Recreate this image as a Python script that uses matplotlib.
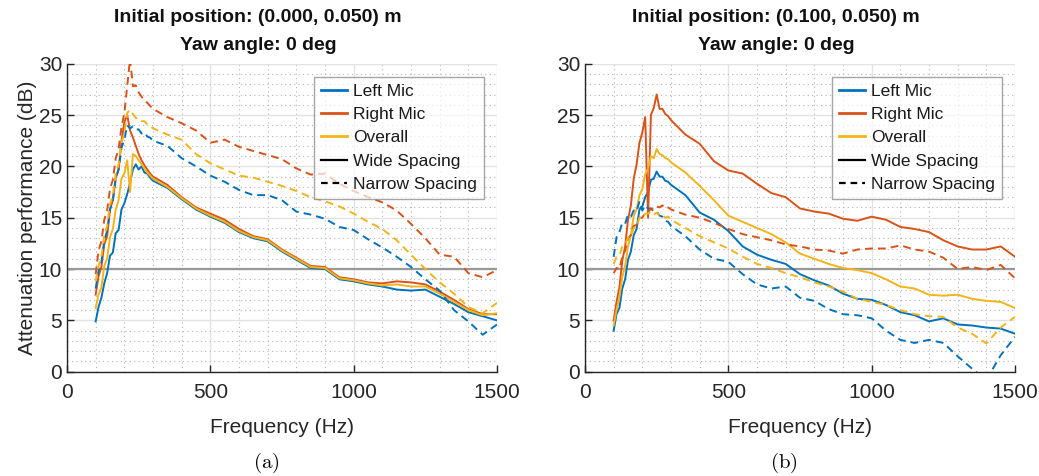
import matplotlib
matplotlib.use("Agg")
import matplotlib.pyplot as plt
from matplotlib.lines import Line2D
from matplotlib.ticker import MultipleLocator

plt.rcParams['font.family'] = ['Liberation Sans', 'DejaVu Sans']
plt.rcParams['mathtext.fontset'] = 'cm'

# ---------------- data ----------------
freq = [100, 110, 120, 130, 140, 150, 160, 170, 180, 190, 200, 210, 220, 230, 240, 250, 260, 270, 280, 290, 300,
        350, 400, 450, 500, 550, 600, 650, 700, 750, 800, 850, 900, 950, 1000, 1050, 1100, 1150, 1200, 1250,
        1300, 1350, 1400, 1450, 1500]

# (a) initial position (0.000, 0.050) m
a_wide_left = [4.9, 6.3, 7.2, 8.6, 9.6, 11.3, 11.6, 13.5, 13.8, 15.8, 16.4, 17.3, 18.4, 19.7, 20.2, 19.7, 20.0, 19.4, 19.3, 18.9, 18.6,
               17.9, 16.8, 15.8, 15.1, 14.5, 13.6, 13.0, 12.7, 11.7, 10.9, 10.1, 10.0, 9.0, 8.8, 8.5, 8.3, 8.0, 7.9, 8.0,
               7.3, 6.6, 5.8, 5.4, 5.0]
a_wide_right = [7.5, 9.3, 10.2, 12.4, 13.2, 15.8, 16.7, 18.9, 19.7, 22.4, 24.3, 25.0, 23.5, 22.8, 22.0, 21.2, 20.6, 20.1, 19.7, 19.3, 19.0,
                18.2, 17.0, 16.0, 15.4, 14.8, 13.9, 13.2, 12.9, 11.9, 11.1, 10.3, 10.2, 9.2, 9.0, 8.7, 8.6, 8.8, 8.7, 8.5,
                7.8, 7.0, 6.1, 5.6, 5.6]
a_wide_overall = [6.2, 7.5, 8.2, 10.3, 11.0, 13.1, 13.9, 15.8, 16.7, 18.8, 19.3, 20.6, 17.5, 21.2, 21.0, 20.6, 20.2, 19.8, 19.4, 19.1, 18.8,
                  18.0, 16.9, 15.9, 15.2, 14.6, 13.7, 13.1, 12.8, 11.8, 11.0, 10.2, 10.1, 9.1, 8.9, 8.6, 8.4, 8.5, 8.3, 8.3,
                  7.6, 6.8, 6.0, 5.5, 5.7]
a_narrow_left = [8.1, 9.8, 10.7, 12.8, 13.7, 15.8, 16.7, 18.8, 19.7, 21.8, 22.6, 24.0, 23.7, 23.9, 23.6, 23.6, 23.2, 23.3, 22.9, 22.8, 22.5,
                 22.0, 20.8, 20.0, 19.1, 18.5, 17.7, 17.2, 17.2, 16.7, 15.6, 15.3, 14.9, 14.1, 13.8, 12.9, 12.1, 11.2, 10.2, 9.0,
                 7.9, 6.0, 4.9, 3.6, 4.6]
a_narrow_right = [9.5, 11.8, 12.7, 14.8, 15.7, 17.8, 18.7, 20.8, 21.7, 23.8, 25.2, 27.8, 30.5, 27.8, 27.9, 27.2, 26.8, 26.4, 26.2, 25.9, 25.6,
                  24.8, 24.2, 23.5, 22.3, 22.6, 21.9, 21.5, 21.1, 20.7, 19.8, 19.2, 19.3, 18.3, 17.6, 17.0, 16.5, 15.7, 14.4, 13.0,
                  11.4, 11.2, 9.6, 9.2, 9.9]
a_narrow_overall = [8.8, 10.3, 11.2, 13.3, 14.2, 16.3, 17.2, 19.3, 20.2, 22.3, 23.2, 25.2, 25.5, 25.1, 24.7, 24.7, 24.4, 24.4, 24.1, 24.0, 23.7,
                    23.1, 22.6, 21.2, 20.3, 19.7, 19.1, 18.9, 18.5, 18.1, 17.6, 17.0, 16.6, 16.1, 15.4, 14.6, 13.9, 12.8, 11.4, 10.0,
                    8.7, 7.6, 6.3, 5.7, 6.7]

# (b) initial position (0.100, 0.050) m
b_wide_left = [4.0, 5.6, 6.2, 8.1, 9.0, 10.9, 11.7, 13.3, 13.9, 15.8, 16.1, 17.0, 17.5, 18.7, 18.8, 19.5, 19.0, 19.0, 18.6, 18.5, 18.2,
               17.2, 15.5, 14.8, 13.7, 12.2, 11.4, 10.9, 10.5, 9.5, 8.9, 8.4, 7.6, 7.1, 7.0, 6.5, 5.8, 5.5, 4.9, 5.2,
               4.6, 4.5, 4.3, 4.2, 3.7]
b_wide_right = [5.0, 6.8, 8.2, 10.8, 12.2, 14.8, 16.2, 18.8, 20.2, 22.3, 23.3, 24.8, 15.0, 25.0, 25.7, 27.0, 25.6, 25.6, 25.1, 24.9, 24.5,
                23.1, 22.2, 20.5, 19.6, 19.3, 18.3, 17.4, 17.0, 15.9, 15.6, 15.4, 14.9, 14.7, 15.1, 14.8, 14.1, 13.9, 13.6, 12.8,
                12.2, 11.9, 11.9, 12.2, 11.2]
b_wide_overall = [4.5, 6.0, 7.3, 9.2, 10.3, 12.2, 13.3, 15.2, 15.8, 17.2, 17.8, 19.2, 19.8, 21.0, 20.8, 21.7, 21.2, 21.1, 20.8, 20.7, 20.4,
                  19.4, 18.1, 16.7, 15.2, 14.6, 14.0, 13.4, 12.6, 11.5, 11.0, 10.5, 10.1, 9.9, 9.6, 9.0, 8.3, 8.1, 7.5, 7.4,
                  7.5, 7.1, 6.9, 6.8, 6.2]
b_narrow_left = [11.2, 13.1, 13.6, 14.5, 14.4, 15.3, 15.1, 15.7, 15.6, 16.6, 15.7, 16.2, 15.9, 15.9, 15.6, 15.6, 15.2, 15.1, 14.7, 14.6, 14.2,
                 13.2, 11.9, 11.0, 10.7, 9.5, 8.5, 8.1, 8.3, 7.2, 6.9, 6.1, 5.6, 5.5, 5.2, 4.0, 3.1, 2.8, 3.1, 2.8,
                 1.5, 0.3, -0.8, 1.6, 3.4]
b_narrow_right = [9.6, 10.1, 10.0, 11.2, 11.8, 13.0, 13.3, 14.2, 14.3, 15.0, 15.0, 15.5, 15.5, 15.9, 15.8, 16.1, 16.0, 16.2, 15.9, 16.0, 15.8,
                  15.3, 15.0, 14.5, 13.9, 13.4, 13.1, 12.8, 12.4, 12.2, 11.9, 11.8, 11.5, 11.9, 12.0, 12.0, 12.3, 11.9, 11.7, 11.1,
                  10.0, 10.2, 9.9, 10.4, 9.1]
b_narrow_overall = [10.5, 11.2, 11.3, 12.2, 12.3, 13.1, 13.1, 14.0, 14.1, 15.0, 14.9, 15.4, 15.4, 15.6, 15.3, 15.5, 15.2, 15.3, 15.0, 15.1, 14.8,
                    14.0, 13.2, 12.6, 12.0, 11.2, 10.5, 10.1, 9.6, 9.2, 8.7, 8.3, 7.8, 7.1, 6.8, 6.5, 6.0, 5.6, 5.4, 5.35,
                    4.3, 3.7, 2.75, 4.3, 5.35]

title_line1 = ["Initial position: (0.000, 0.050) m", "Initial position: (0.100, 0.050) m"]
title_line2 = ["Yaw angle: 0 deg", "Yaw angle: 0 deg"]
captions = ["a", "b"]
series_labels = ["Left Mic", "Right Mic", "Overall"]
spacing_labels = ["Wide Spacing", "Narrow Spacing"]

panels = [
    (a_wide_left, a_wide_right, a_wide_overall, a_narrow_left, a_narrow_right, a_narrow_overall),
    (b_wide_left, b_wide_right, b_wide_overall, b_narrow_left, b_narrow_right, b_narrow_overall),
]

# ---------------- style ----------------
colors = ['#0072BD', '#D95319', '#F5B31A']
W, H = 1039, 476
fig = plt.figure(figsize=(W / 100, H / 100), dpi=100)

ax_lefts = [67, 585]
ax_w = 430
ax_bottom = 371.7
ax_top = 63.7
title_cx = [258, 776]
caption_cx = [266, 784]
dash = (4.0, 2.6)

for i, (data, xl) in enumerate(zip(panels, ax_lefts)):
    ax = fig.add_axes([xl / W, 1 - ax_bottom / H, ax_w / W, (ax_bottom - ax_top) / H])
    ax.set_xlim(0, 1500)
    ax.set_ylim(0, 30)
    ax.xaxis.set_major_locator(MultipleLocator(500))
    ax.xaxis.set_minor_locator(MultipleLocator(100))
    ax.yaxis.set_major_locator(MultipleLocator(5))
    ax.yaxis.set_minor_locator(MultipleLocator(1))
    ax.grid(which='major', color='#e3e3e3', lw=1.0, ls='-', zorder=0)
    ax.grid(which='minor', color='#b5b5b5', lw=0.8, ls=(0, (1, 3)), zorder=0)
    ax.set_axisbelow(True)
    for s in ['top', 'right']:
        ax.spines[s].set_visible(False)
    for s in ['left', 'bottom']:
        ax.spines[s].set_color('#262626')
        ax.spines[s].set_linewidth(1.0)
    ax.tick_params(which='major', direction='in', length=5, width=1.0, colors='#262626',
                   labelsize=15, labelcolor='#262626')
    ax.tick_params(which='minor', length=0)
    ax.tick_params(axis='x', pad=8)
    ax.axhline(10, color='#999999', lw=1.6, zorder=1)

    wl, wr, wo, nl, nr, no = data
    for vals, c in zip((wl, wr, wo), colors):
        ax.plot(freq, vals, color=c, lw=1.4, zorder=3)
    for vals, c in zip((nl, nr, no), colors):
        ax.plot(freq, vals, color=c, lw=1.4, ls='--', dashes=dash, zorder=3)

    ax.set_xlabel("Frequency (Hz)", fontsize=15, color='#262626', labelpad=12)
    if i == 0:
        ax.set_ylabel("Attenuation performance (dB)", fontsize=15, color='#262626', labelpad=1)

    handles = [Line2D([], [], color=c, lw=2) for c in colors]
    handles += [Line2D([], [], color='black', lw=1.6),
                Line2D([], [], color='black', lw=1.6, ls='--', dashes=(3, 2.2))]
    leg = ax.legend(handles, series_labels + spacing_labels, loc='upper right',
                    fontsize=12.5, frameon=True, fancybox=False, framealpha=0.7,
                    edgecolor='#808080', borderaxespad=0.75, handlelength=1.5,
                    handletextpad=0.35, labelspacing=0.47, borderpad=0.4)
    leg.get_frame().set_linewidth(1.0)
    for t in leg.get_texts():
        t.set_color('#1a1a1a')

    fig.text(title_cx[i] / W, 1 - 18 / H, title_line1[i], ha='center', va='center',
             fontsize=14, fontweight='bold', color='#111111')
    fig.text(title_cx[i] / W, 1 - 45 / H, title_line2[i], ha='center', va='center',
             fontsize=14, fontweight='bold', color='#111111')
    fig.text(caption_cx[i] / W, 1 - 463 / H, r'$(\mathrm{%s})$' % captions[i],
             ha='center', va='center', fontsize=15)

fig.savefig("out.png", dpi=100, facecolor='white')
